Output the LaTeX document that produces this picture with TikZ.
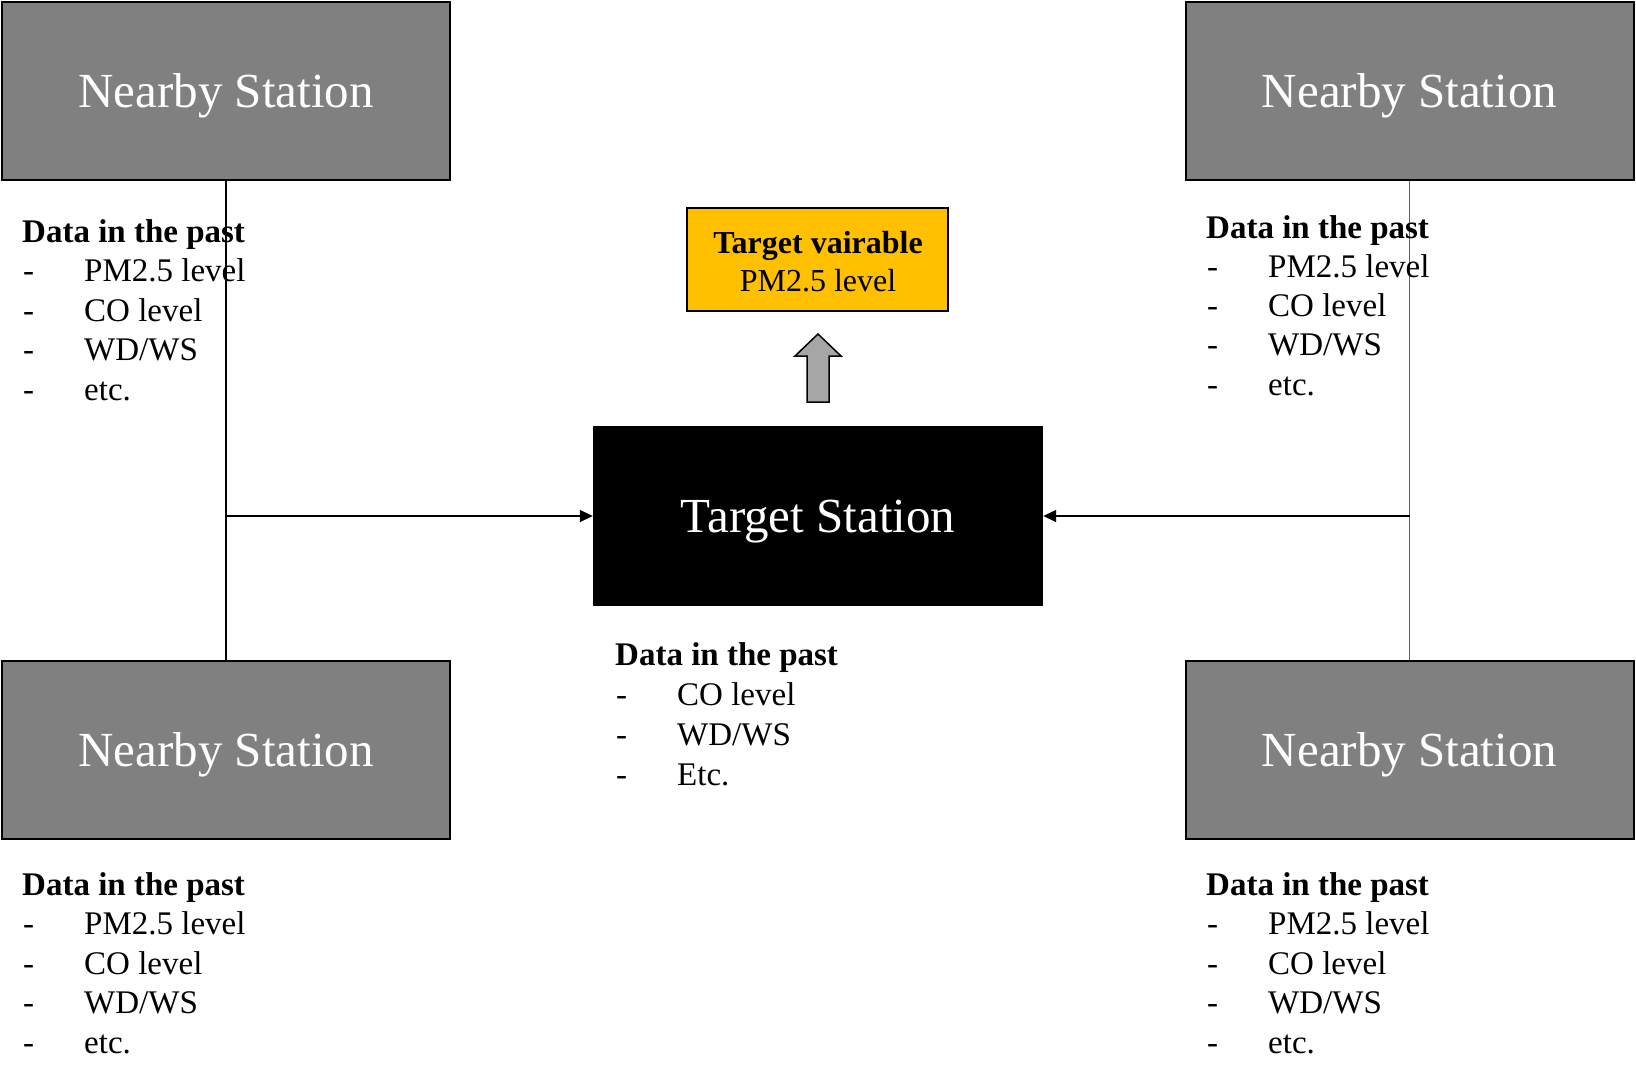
\documentclass[tikz,border=0pt]{standalone}
\usepackage{fontspec}
\setmainfont{Liberation Serif}
\usetikzlibrary{arrows.meta}
\definecolor{boxgray}{HTML}{808080}
\definecolor{arrgray}{HTML}{A6A6A6}
\definecolor{gold}{HTML}{FFC000}
\definecolor{linegray}{HTML}{606060}
\tikzset{
  nearby/.style={draw=black, line width=2pt, fill=boxgray, text=white,
    minimum width=448pt, minimum height=178pt, inner sep=0pt,
    font=\fontsize{49}{55}\selectfont, text height=32pt, text depth=0pt},
  targetbox/.style={fill=black, text=white, minimum width=450pt, minimum height=180pt,
    inner sep=0pt, font=\fontsize{49}{55}\selectfont, text height=32pt, text depth=0pt},
  varbox/.style={draw=black, line width=2pt, fill=gold, minimum width=261pt,
    minimum height=103pt, inner sep=0pt},
  hdr/.style={anchor=base west, inner sep=0pt, font=\fontsize{33}{39}\selectfont\bfseries},
  itm/.style={anchor=base west, inner sep=0pt, font=\fontsize{33}{39}\selectfont},
  vtxt/.style={anchor=base, inner sep=0pt, font=\fontsize{32}{38}\selectfont},
  conn/.style={line width=1.5pt, draw=black},
  tip/.style={-{Triangle[length=13pt,width=12pt]}},
  blockarrow/.style={draw=black, line width=1.5pt, fill=arrgray, line join=miter}
}
\newcommand\datablock[5]{%
  \node[hdr] (#1h) at (#2,#3) {Data in the past};
  \foreach \t [count=\k] in {#5} {
    \node[itm] (#1d\k) at (#2+1,#3+#4*\k) {-};
    \node[itm] (#1t\k) at (#2+62,#3+#4*\k) {\t};
  }%
}
\begin{document}
\begin{tikzpicture}[x=1pt,y=-1pt]
\path[use as bounding box] (0,0) rectangle (1636,1080);

% boxes
\node[nearby] (nTL) at (226,91) {Nearby Station};
\node[nearby] (nTR) at (1409.5,91) {Nearby Station};
\node[nearby] (nBL) at (226,750) {Nearby Station};
\node[nearby] (nBR) at (1409.5,750) {Nearby Station};
\node[targetbox] (ts) at (818,516) {Target Station};
\node[varbox] (tv) at (817.5,259.5) {};
\node[vtxt, font=\fontsize{32}{38}\selectfont\bfseries] (tvA) at (818,253) {Target vairable};
\node[vtxt] (tvB) at (818,291) {PM2.5 level};

% connectors
\draw[conn] (nTL.south) -- (nBL.north);
\draw[conn, draw=linegray] (nTR.south) -- (nBR.north);
\coordinate (jL) at (nTL.south |- ts.west);
\coordinate (jR) at (nTR.south |- ts.east);
\draw[conn, tip] (jL) -- (ts.west);
\draw[conn, tip] (jR) -- (ts.east);

% block arrow up
\draw[blockarrow] (818,334) -- (841,356) -- (829,356) -- (829,402) -- (807,402)
  -- (807,356) -- (795,356) -- cycle;

% data blocks
\datablock{dTL}{22}{242}{39.6}{PM2.5 level,CO level,WD/WS,etc.}
\datablock{dTR}{1206}{238}{39.3}{PM2.5 level,CO level,WD/WS,etc.}
\datablock{dBL}{22}{895}{39.6}{PM2.5 level,CO level,WD/WS,etc.}
\datablock{dBR}{1206}{895}{39.6}{PM2.5 level,CO level,WD/WS,etc.}
\datablock{dC}{615}{665}{40}{CO level,WD/WS,Etc.}
\end{tikzpicture}
\end{document}
